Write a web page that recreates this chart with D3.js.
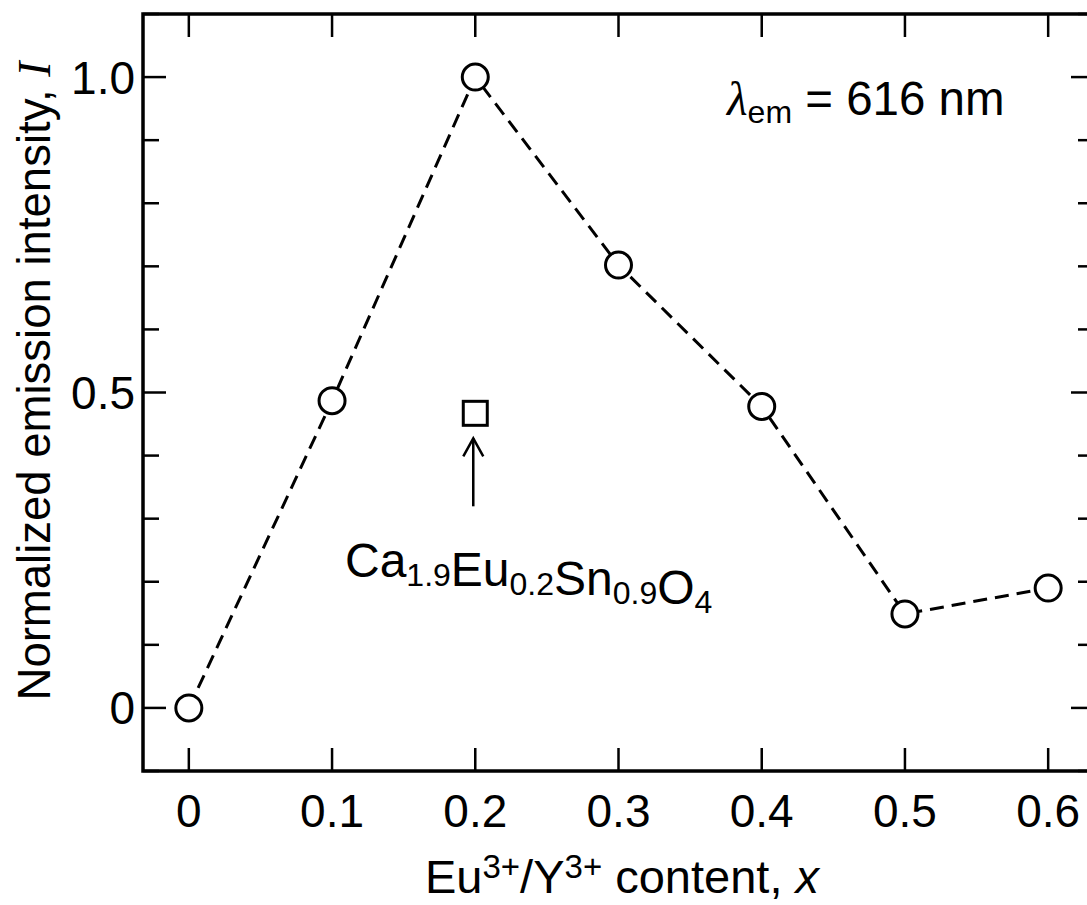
<!DOCTYPE html>
<html>
<head>
<meta charset="utf-8">
<script src="https://cdn.jsdelivr.net/npm/d3@7"></script>
<style>
  html, body { margin: 0; padding: 0; background: #fff; }
  svg { display: block; font-family: "Liberation Sans", Arial, sans-serif; }
</style>
</head>
<body>
<svg id="chart" width="1087" height="905"></svg>
<script>
// data
const contentX = [0, 0.1, 0.2, 0.3, 0.4, 0.5, 0.6];
const intensity = [0, 0.487, 1.0, 0.702, 0.478, 0.149, 0.19];
const refPoint = [{ x: 0.2, y: 0.467 }];   // Ca1.9Eu0.2Sn0.9O4
const xTicks = [0, 0.1, 0.2, 0.3, 0.4, 0.5, 0.6];
const xTickLabels = ['0', '0.1', '0.2', '0.3', '0.4', '0.5', '0.6'];
const yMajor = [0, 0.5, 1.0];
const yMajorLabels = ['0', '0.5', '1.0'];
const yMinor = [-0.1, 0.1, 0.2, 0.3, 0.4, 0.6, 0.7, 0.8, 0.9, 1.1];

const svg = d3.select('#chart');
const plotL = 143, plotR = 1094, plotT = 14, plotB = 771;

const x = d3.scaleLinear().domain([-0.032, 0.632]).range([plotL, plotR]);
const y = d3.scaleLinear().domain([-0.1, 1.1]).range([plotB, plotT]);

const ink = '#000';

// ticks (inward, on all four sides)
const majorLen = 23, minorLen = 16;
const tickG = svg.append('g').attr('stroke', ink).attr('stroke-width', 2.5);
xTicks.forEach(v => {
  tickG.append('line').attr('x1', x(v)).attr('x2', x(v)).attr('y1', plotB).attr('y2', plotB - majorLen);
  tickG.append('line').attr('x1', x(v)).attr('x2', x(v)).attr('y1', plotT).attr('y2', plotT + majorLen);
});
yMajor.forEach(v => {
  tickG.append('line').attr('x1', plotL).attr('x2', plotL + majorLen).attr('y1', y(v)).attr('y2', y(v));
  tickG.append('line').attr('x1', plotR).attr('x2', plotR - majorLen).attr('y1', y(v)).attr('y2', y(v));
});
yMinor.forEach(v => {
  tickG.append('line').attr('x1', plotL).attr('x2', plotL + minorLen).attr('y1', y(v)).attr('y2', y(v));
  tickG.append('line').attr('x1', plotR).attr('x2', plotR - minorLen).attr('y1', y(v)).attr('y2', y(v));
});

// frame
svg.append('rect')
  .attr('x', plotL).attr('y', plotT)
  .attr('width', plotR - plotL).attr('height', plotB - plotT)
  .attr('fill', 'none').attr('stroke', ink).attr('stroke-width', 3.5);

// tick labels
svg.append('g').selectAll('text').data(xTicks).join('text')
  .attr('x', d => x(d)).attr('y', 827)
  .attr('text-anchor', 'middle').attr('font-size', 46)
  .text((d, i) => xTickLabels[i]);

svg.append('g').selectAll('text').data(yMajor).join('text')
  .attr('x', 135).attr('y', d => y(d)).attr('dy', '0.36em')
  .attr('text-anchor', 'end').attr('font-size', 46)
  .text((d, i) => yMajorLabels[i]);

// axis titles
const xt = svg.append('text')
  .attr('x', 622).attr('y', 893).attr('text-anchor', 'middle').attr('font-size', 47);
xt.append('tspan').text('Eu');
xt.append('tspan').attr('font-size', 33).attr('dy', -15).text('3+');
xt.append('tspan').attr('dy', 15).text('/Y');
xt.append('tspan').attr('font-size', 33).attr('dy', -15).text('3+');
xt.append('tspan').attr('dy', 15).text(' content, ');
xt.append('tspan').attr('font-style', 'italic').text('x');

const yt = svg.append('text')
  .attr('transform', 'translate(50,381) rotate(-90)')
  .attr('text-anchor', 'middle').attr('font-size', 45.5);
yt.append('tspan').text('Normalized emission intensity, ');
yt.append('tspan').attr('font-family', '"Liberation Serif", serif').attr('font-style', 'italic').text('I');

// dashed connecting line
const line = d3.line().x(d => x(d[0])).y(d => y(d[1]));
svg.append('path')
  .datum(contentX.map((v, i) => [v, intensity[i]]))
  .attr('d', line)
  .attr('fill', 'none').attr('stroke', ink)
  .attr('stroke-width', 3).attr('stroke-dasharray', '14,8');

// open circles
svg.append('g').selectAll('circle').data(contentX).join('circle')
  .attr('cx', d => x(d)).attr('cy', (d, i) => y(intensity[i]))
  .attr('r', 13).attr('fill', '#fff').attr('stroke', ink).attr('stroke-width', 3);

// open square for reference compound
const sq = 24;
svg.append('g').selectAll('rect').data(refPoint).join('rect')
  .attr('x', d => x(d.x) - sq / 2).attr('y', d => y(d.y) - sq / 2)
  .attr('width', sq).attr('height', sq)
  .attr('fill', '#fff').attr('stroke', ink).attr('stroke-width', 3);

// arrow pointing at the square
const ax = x(refPoint[0].x) - 2;
const tipY = y(refPoint[0].y) + 25;
const arrow = svg.append('g').attr('stroke', ink).attr('stroke-width', 2.5).attr('fill', 'none');
arrow.append('line').attr('x1', ax).attr('x2', ax).attr('y1', tipY).attr('y2', tipY + 68);
arrow.append('path').attr('d', `M${ax - 10},${tipY + 18} L${ax},${tipY} L${ax + 10},${tipY + 18}`);

// formula label
const ft = svg.append('text').attr('x', 345).attr('y', 577).attr('font-size', 48);
[['Ca', '1.9'], ['Eu', '0.2'], ['Sn', '0.9'], ['O', '4']].forEach(([el, sub]) => {
  ft.append('tspan').attr('dy', 0).text(el);
  ft.append('tspan').attr('font-size', 32).attr('dy', 9).text(sub);
  ft.append('tspan').attr('dy', -9).text('');
});

// λem annotation
const lt = svg.append('text').attr('x', 727).attr('y', 115).attr('font-size', 47.5);
lt.append('tspan').attr('font-family', '"Liberation Serif", serif').attr('font-style', 'italic').text('λ');
lt.append('tspan').attr('font-size', 32).attr('dy', 8).text('em');
lt.append('tspan').attr('dy', -8).text(' = 616 nm');
</script>
</body>
</html>
